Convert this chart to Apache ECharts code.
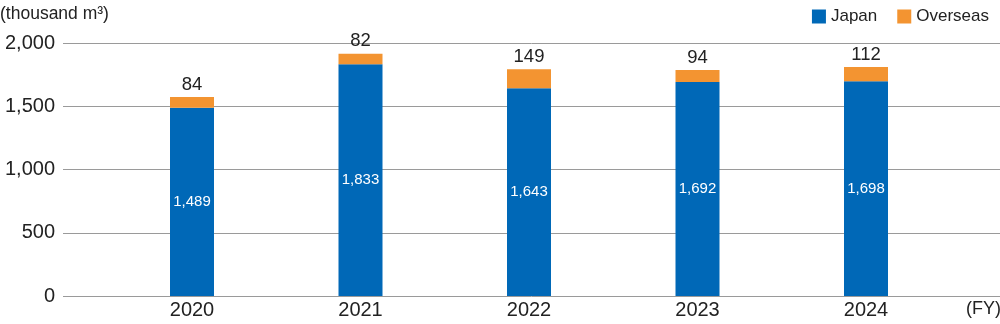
<!DOCTYPE html>
<html><head><meta charset="utf-8">
<script src="https://cdn.jsdelivr.net/npm/echarts@6/dist/echarts.min.js"></script>
<style>html,body{margin:0;padding:0;background:#fff}#c{width:1000px;height:324px}</style>
</head><body><div id="c"></div>
<script>
const categories = ['2020', '2021', '2022', '2023', '2024'];
const japan = [1489, 1833, 1643, 1692, 1698];
const overseas = [84, 82, 149, 94, 112];
const yTicks = [0, 500, 1000, 1500, 2000];

const FONT = '"Liberation Sans", Arial, sans-serif';
const chart = echarts.init(document.getElementById('c'));
chart.setOption({
  animation: false,
  textStyle: { fontFamily: FONT },
  legend: {
    right: 6, top: 3, itemWidth: 14, itemHeight: 14, itemGap: 20,
    icon: 'rect',
    textStyle: { fontSize: 17, color: '#222', fontFamily: FONT },
    data: ['Japan', 'Overseas']
  },
  graphic: [
    { type: 'text', left: 0, top: 5, style: { text: '(thousand m³)', fontSize: 17.5, fill: '#222', fontFamily: FONT } },
    { type: 'text', left: 966, top: 300, style: { text: '(FY)', fontSize: 18, fill: '#222', fontFamily: FONT } }
  ],
  grid: [
    { left: 63, right: 0, top: 43, bottom: 28, containLabel: false },
    { left: 107.75, right: 49.75, top: 43, bottom: 28, containLabel: false }
  ],
  xAxis: [
    { gridIndex: 0, type: 'category', data: categories, show: false },
    { gridIndex: 1, type: 'category', data: categories,
      axisLine: { show: false }, axisTick: { show: false },
      axisLabel: { fontSize: 20, color: '#222', margin: 4, fontFamily: FONT } }
  ],
  yAxis: [
    { gridIndex: 0, type: 'value', min: yTicks[0], max: yTicks[yTicks.length - 1], interval: 500,
      axisLine: { show: false }, axisTick: { show: false },
      axisLabel: { fontSize: 20, color: '#222', margin: 8, fontFamily: FONT,
        formatter: v => v.toLocaleString('en-US') },
      splitLine: { lineStyle: { color: '#9a9a9a', width: 1 } } },
    { gridIndex: 1, type: 'value', min: yTicks[0], max: yTicks[yTicks.length - 1], interval: 500,
      show: false, splitLine: { show: false } }
  ],
  series: [
    { name: 'Japan', type: 'bar', xAxisIndex: 1, yAxisIndex: 1, stack: 't', barWidth: 44,
      data: japan, itemStyle: { color: '#0068b7' },
      label: { show: true, position: 'inside', color: '#fff', fontSize: 15, fontFamily: FONT,
        formatter: p => p.value.toLocaleString('en-US') } },
    { name: 'Overseas', type: 'bar', xAxisIndex: 1, yAxisIndex: 1, stack: 't', barWidth: 44,
      data: overseas, itemStyle: { color: '#f39431' },
      label: { show: true, position: 'top', color: '#222', fontSize: 18.5, distance: 3, fontFamily: FONT } }
  ]
});
</script></body></html>
